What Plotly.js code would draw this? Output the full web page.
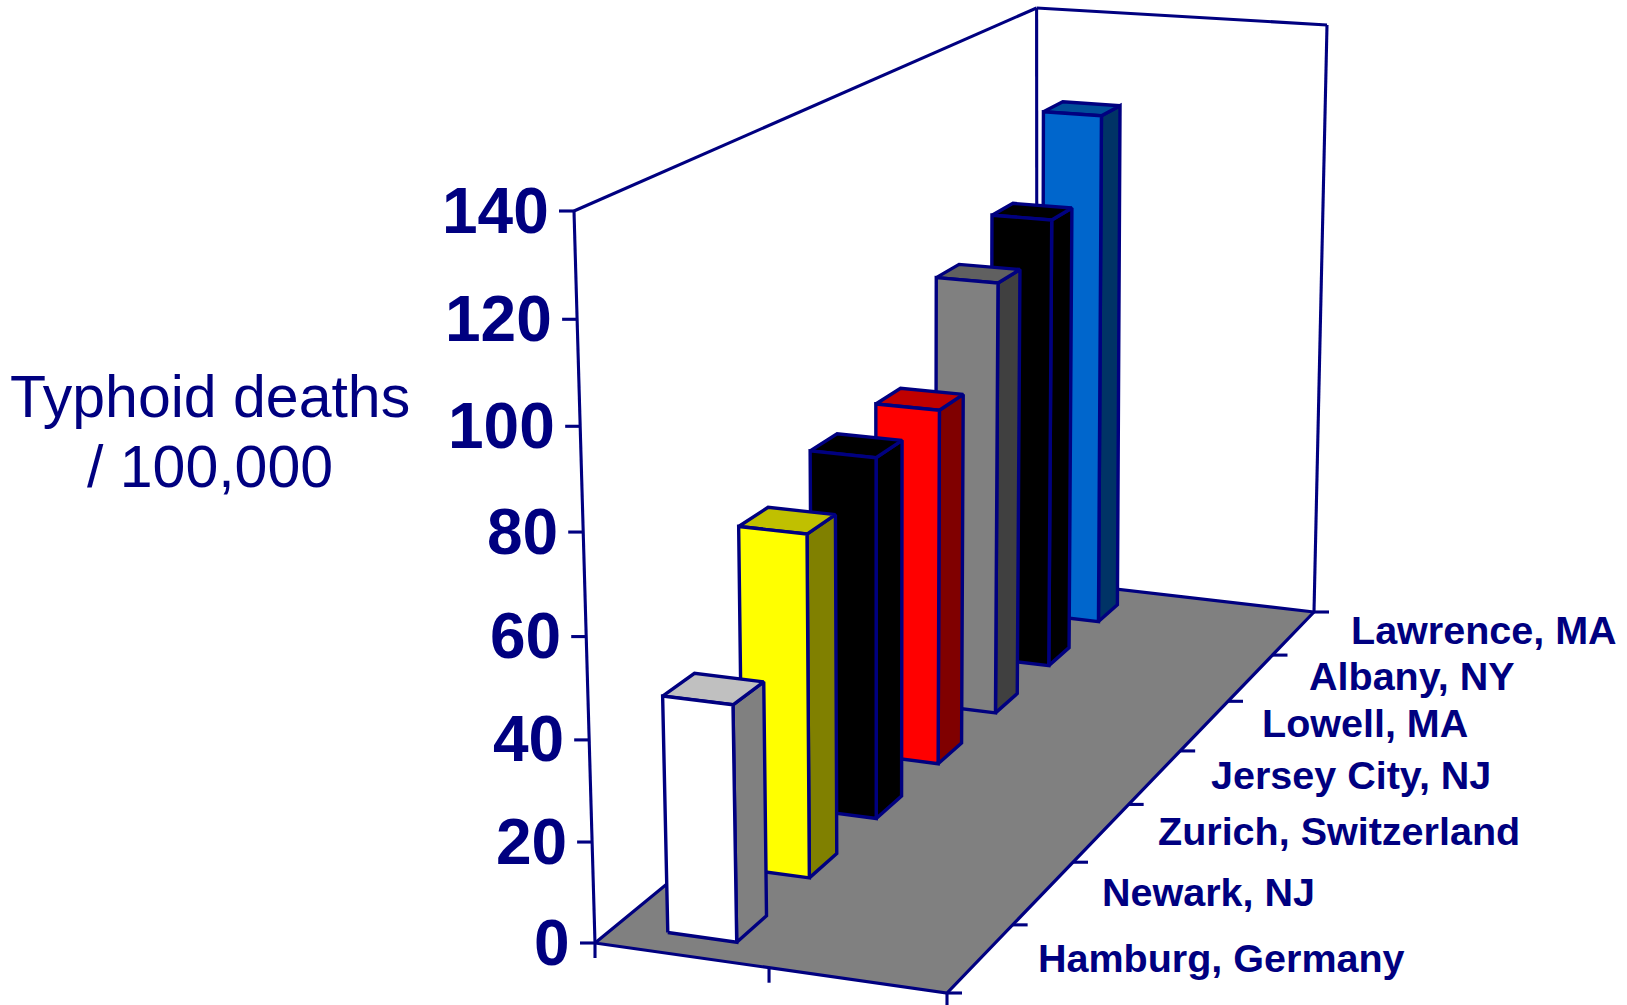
<!DOCTYPE html>
<html>
<head>
<meta charset="utf-8">
<script src="https://cdn.plot.ly/plotly-3.0.1.min.js"></script>
<style>html,body{margin:0;padding:0;background:#fff}#chart{width:1627px;height:1005px}</style>
</head>
<body>
<div id="chart"></div>
<script>
// Typhoid death rates per city
const categories = ["Hamburg, Germany", "Newark, NJ", "Zurich, Switzerland", "Jersey City, NJ", "Lowell, MA", "Albany, NY", "Lawrence, MA"];
const deaths = [46.8, 69.8, 75.8, 76.9, 96.3, 103.1, 120.4];
const valueTicks = [0, 20, 40, 60, 80, 100, 120, 140];

// Face colours of each column: front, side, top
const frontColors = ["#ffffff", "#ffff00", "#000000", "#ff0000", "#808080", "#000000", "#0066cc"];
const sideColors = ["#808080", "#808000", "#000000", "#800000", "#404040", "#000000", "#003366"];
const topColors = ["#c0c0c0", "#c0c000", "#000000", "#c00000", "#606060", "#000000", "#004d99"];

const NAVY = "#000080";
const FLOOR = "#808080";
const VALUE_MAX = 140;

// Corners of the chart box on the page: front-left, front-right, back-right, back-left
const floorQuad = [[595, 943], [947, 993], [1314, 612], [1037, 580]];
const roofQuad = [[574, 211], [956, 247], [1327, 25], [1036.6, 8]];
const heightWarp = 0.96;

// Footprint of a column inside its category slot
const colU = [0.15, 0.35];
const colV = [0.265, 0.665];

// Left edge and baseline of each category label
const labelLeft = [1037, 1101, 1157, 1210, 1261, 1308, 1350];
const labelBase = [972, 906, 845, 789, 737, 690, 644];

function quadMap(q) {
  const [[x0, y0], [x1, y1], [x2, y2], [x3, y3]] = q;
  const dx1 = x1 - x2, dx2 = x3 - x2, sx = x0 - x1 + x2 - x3;
  const dy1 = y1 - y2, dy2 = y3 - y2, sy = y0 - y1 + y2 - y3;
  const det = dx1 * dy2 - dx2 * dy1;
  const g = (sx * dy2 - dx2 * sy) / det;
  const h = (dx1 * sy - sx * dy1) / det;
  const a = x1 - x0 + g * x1, b = x3 - x0 + h * x3;
  const d = y1 - y0 + g * y1, e = y3 - y0 + h * y3;
  return (u, v) => {
    const w = g * u + h * v + 1;
    return [(a * u + b * v + x0) / w, (d * u + e * v + y0) / w];
  };
}
const floorAt = quadMap(floorQuad);
const roofAt = quadMap(roofQuad);

// (across, depth, value) to page position
function project(u, v, value) {
  const t = value / VALUE_MAX;
  const s = t * heightWarp / ((1 - t) + t * heightWarp);
  const b = floorAt(u, v), r = roofAt(u, v);
  return [b[0] + (r[0] - b[0]) * s, b[1] + (r[1] - b[1]) * s];
}

const traces = [];
function poly(points, fill, width) {
  const closed = points.concat([points[0]]);
  traces.push({
    type: "scatter", mode: "lines", hoverinfo: "skip", showlegend: false,
    x: closed.map(p => p[0]), y: closed.map(p => p[1]),
    fill: "toself", fillcolor: fill,
    line: {color: NAVY, width: width, simplify: false}
  });
}
function line(a, b, width) {
  traces.push({
    type: "scatter", mode: "lines", hoverinfo: "skip", showlegend: false,
    x: [a[0], b[0]], y: [a[1], b[1]],
    line: {color: NAVY, width: width, simplify: false}
  });
}

// Floor and back walls
poly([project(0, 0, 0), project(1, 0, 0), project(1, 1, 0), project(0, 1, 0)], FLOOR, 3.2);
line(project(0, 0, VALUE_MAX), project(0, 1, VALUE_MAX), 3.1);
line(project(0, 1, VALUE_MAX), project(1, 1, VALUE_MAX), 3.1);
line(project(0, 1, VALUE_MAX), project(0, 1, 0), 3.1);
line(project(1, 1, VALUE_MAX), project(1, 1, 0), 3.1);
line(project(0, 0, VALUE_MAX), project(0, 0, 0), 3.1);

// Ticks
valueTicks.forEach(val => {
  const p = project(0, 0, val);
  line([p[0] - 15, p[1]], p, 3.1);
});
[0, 0.5, 1].forEach(u => {
  const p = project(u, 0, 0);
  line(p, [p[0], p[1] + 15], 3.1);
});
for (let i = 0; i <= categories.length; i++) {
  const p = project(1, i / categories.length, 0);
  line(p, [p[0] + 15, p[1]], 3.1);
}

// Columns, back to front so nearer ones cover farther ones
const n = categories.length;
for (let i = n - 1; i >= 0; i--) {
  const v0 = (i + colV[0]) / n, v1 = (i + colV[1]) / n;
  const [u0, u1] = colU;
  const val = deaths[i];
  poly([project(u1, v0, 0), project(u1, v1, 0), project(u1, v1, val), project(u1, v0, val)], sideColors[i], 3.4);
  poly([project(u0, v0, val), project(u1, v0, val), project(u1, v1, val), project(u0, v1, val)], topColors[i], 3.4);
  poly([project(u0, v0, 0), project(u1, v0, 0), project(u1, v0, val), project(u0, v0, val)], frontColors[i], 3.4);
}

const annotations = [];
function label(text, x, y, size, bold, xanchor) {
  annotations.push({
    text: bold ? "<b>" + text + "</b>" : text,
    x: x, y: y, xref: "x", yref: "y", showarrow: false,
    xanchor: xanchor, yanchor: "middle", borderpad: 0,
    font: {family: "Liberation Sans", size: size, color: NAVY}
  });
}
valueTicks.forEach(val => {
  const p = project(0, 0, val);
  label(String(val), p[0] - 24, p[1] - 0.5, 64, true, "right");
});
categories.forEach((c, i) => label(c, labelLeft[i], labelBase[i] - 14, 39.5, true, "left"));
label("Typhoid deaths", 210, 397, 59, false, "center");
label("/ 100,000", 210, 467, 59, false, "center");

Plotly.newPlot("chart", traces, {
  width: 1627, height: 1005,
  margin: {l: 0, r: 0, t: 0, b: 0},
  paper_bgcolor: "#ffffff", plot_bgcolor: "#ffffff",
  showlegend: false,
  xaxis: {range: [0, 1627], visible: false, fixedrange: true},
  yaxis: {range: [1005, 0], visible: false, fixedrange: true},
  annotations: annotations
}, {displayModeBar: false, staticPlot: true});
</script>
</body>
</html>
